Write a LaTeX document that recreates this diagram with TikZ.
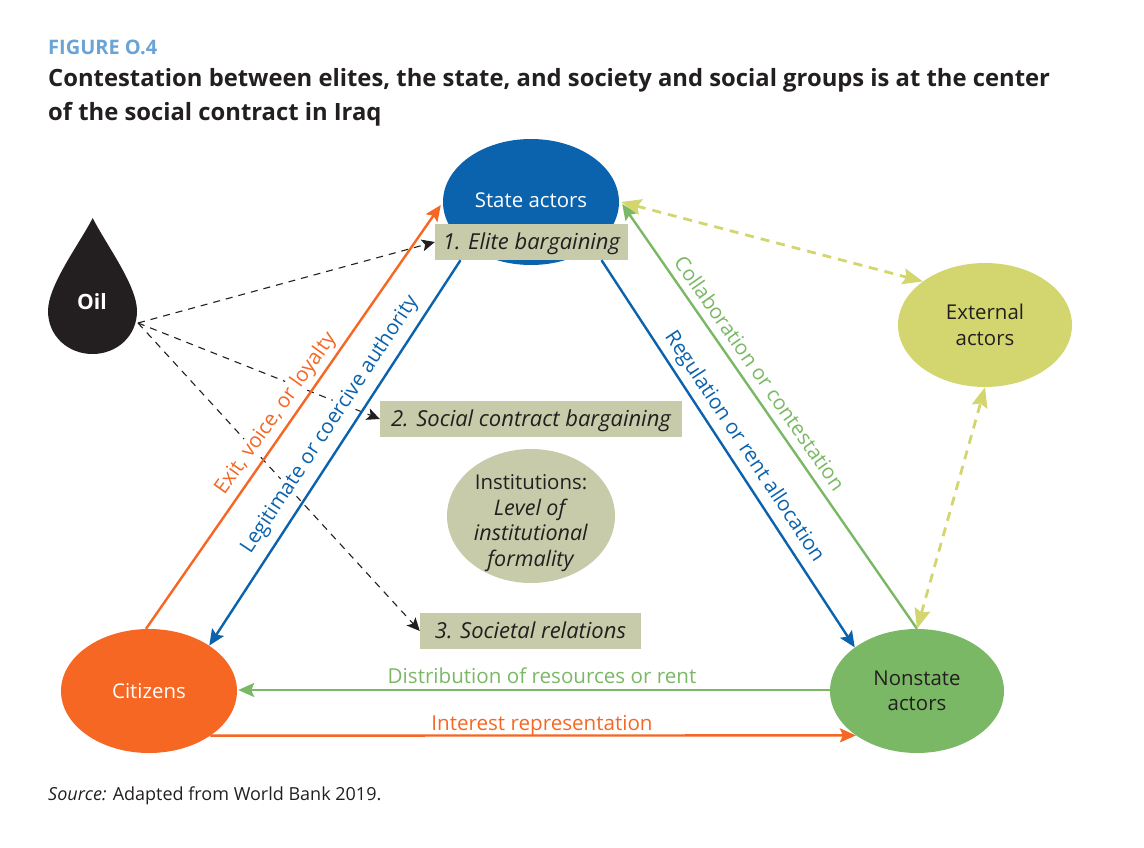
\documentclass[tikz,border=0pt]{standalone}
\usepackage{fontspec}
\setmainfont{Open Sans}
\usetikzlibrary{arrows.meta,shapes.geometric}
\definecolor{wbblue}{HTML}{0B62AD}
\definecolor{wborange}{HTML}{F56723}
\definecolor{wbgreen}{HTML}{7AB865}
\definecolor{wbyellow}{HTML}{D3D66E}
\definecolor{wbkhaki}{HTML}{C7CBA9}
\definecolor{wbink}{HTML}{231F20}
\definecolor{wbhead}{HTML}{6AA3D5}
\tikzset{
  actor/.style={ellipse,inner sep=0pt,align=center,font=\fontsize{20.4}{25.5}\selectfont},
  band/.style={fill=wbkhaki,inner sep=0pt,text=wbink,text height=16pt,text depth=1pt,font=\fontsize{22}{24}\selectfont\itshape},
  lbl/.style={inner sep=1pt,font=\fontsize{20.6}{24}\selectfont},
  solidarrow/.style={line width=2.4pt,-{Stealth[length=16pt,width=14pt,inset=3pt]}},
  dasharrow/.style={wbink,line width=1.1pt,dash pattern=on 7pt off 6pt,-{Stealth[length=13pt,width=12pt,inset=3pt]}},
  yellowarrow/.style={wbyellow,line width=2.8pt,dash pattern=on 9pt off 7pt,{Stealth[length=20pt,width=16pt,inset=3pt]}-{Stealth[length=20pt,width=16pt,inset=3pt]}},
}
\begin{document}
\begin{tikzpicture}[x=1pt,y=-1pt]
\useasboundingbox (0,0) rectangle (1144,848);
\node[anchor=base west,inner sep=0pt,text=wbhead,font=\fontsize{20}{22}\selectfont\bfseries] (fig) at (48,55) {FIGURE O.4};
\node[anchor=base west,inner sep=0pt,text=wbink,font=\fontsize{23.8}{34}\selectfont\bfseries,align=left] (title) at (48,121) {Contestation between elites, the state, and society and social groups is at the center\\of the social contract in Iraq};
\node[anchor=base west,inner sep=0pt,text=wbink,font=\fontsize{18}{20}\selectfont] (src) at (48,800) {\textit{Source:} Adapted from World Bank 2019.};

\node[actor,fill=wbblue,text=white,minimum width=176pt,minimum height=126pt] (state) at (531,202) {};
\node[actor,text=white] (statetext) at (531,200) {State actors};
\node[actor,fill=wborange,text=white,minimum width=176pt,minimum height=124pt] (citizens) at (149,691) {Citizens};
\node[actor,fill=wbgreen,text=wbink,minimum width=174pt,minimum height=124pt] (nonstate) at (917,691) {Nonstate\\actors};
\node[actor,fill=wbyellow,text=wbink,minimum width=174pt,minimum height=124pt] (external) at (985,325) {External\\actors};
\node[actor,fill=wbkhaki,minimum width=168pt,minimum height=134pt] (inst) at (531,516) {};
\node[actor,text=wbink,rectangle] (insttext) at (531,523) {Institutions:\\\fontsize{21.5}{25.5}\selectfont\textit{Level of}\\\fontsize{21.5}{25.5}\selectfont\textit{institutional}\\\fontsize{21.5}{25.5}\selectfont\textit{formality}};

\node[band,minimum width=193pt,minimum height=36pt] (b1) at (531.5,242) {1. Elite bargaining};
\node[band,minimum width=302pt,minimum height=36pt] (b2) at (531,419) {2. Social contract bargaining};
\node[band,minimum width=221pt,minimum height=36pt] (b3) at (530.5,631) {3. Societal relations};

\fill[wbink] (92.7,218) .. controls (80,243) and (48,285) .. (48,311)
  .. controls (48,336) and (68,354) .. (92.5,354)
  .. controls (117,354) and (137,336) .. (137,311)
  .. controls (137,285) and (105,243) .. (92.7,218) -- cycle;
\node[text=white,inner sep=0pt,font=\fontsize{21}{24}\selectfont\bfseries] (oil) at (92,302) {Oil};
\coordinate (oilout) at (138,323);

\draw[dasharrow] (oilout) -- (b1.west);
\draw[dasharrow] (oilout) -- (b2.west);
\draw[dasharrow] (oilout) -- (b3.west);

\node[lbl,rotate=54.5,text=wborange,fill=white] (l1) at (276,414) {Exit, voice, or loyalty};
\node[lbl,rotate=56.5,text=wbblue,fill=white] (l2) at (330,425) {Legitimate or coercive authority};
\node[lbl,rotate=-56.5,text=wbblue] (l3) at (744,447) {Regulation or rent allocation};
\node[lbl,rotate=-55,text=wbgreen] (l4) at (760,373) {Collaboration or contestation};
\node[lbl,anchor=base,text=wbgreen] (l5) at (542,683) {Distribution of resources or rent};
\node[lbl,anchor=base,text=wborange] (l6) at (542,730) {Interest representation};

\draw[solidarrow,wborange] ([xshift=-3pt]citizens.north) -- ([xshift=-2pt,yshift=-3pt]state.west);
\draw[solidarrow,wbblue] ([xshift=-71pt]b1.south) -- (citizens.37);
\draw[solidarrow,wbblue] ([xshift=70pt]b1.south) -- (nonstate.145);
\draw[solidarrow,wbgreen] (nonstate.north) -- ([xshift=3pt,yshift=-2pt]state.east);
\draw[solidarrow,wbgreen] ([yshift=1pt]nonstate.west) -- ([xshift=1pt,yshift=1pt]citizens.east);
\draw[solidarrow,wborange] (citizens.-36) -- (nonstate.-144);
\draw[yellowarrow] ([xshift=2pt]state.east) -- (external.145);
\draw[yellowarrow] (nonstate.north) -- (external.south);
\end{tikzpicture}
\end{document}
